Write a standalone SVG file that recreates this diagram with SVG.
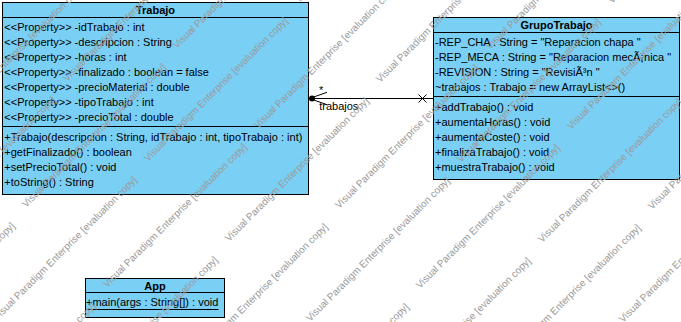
<svg xmlns="http://www.w3.org/2000/svg" xmlns:xlink="http://www.w3.org/1999/xlink" width="681" height="322" viewBox="0 0 681 322">
  <style>
    .box { fill: #7ACFF5; stroke: #000; stroke-width: 1; }
    .sep { stroke: #000; stroke-width: 1; fill: none; }
    .t { font-family: "Liberation Sans", Arial, sans-serif; font-size: 11px; fill: #000; }
    .h { font-weight: bold; text-anchor: middle; }
    .wm { font-family: "Liberation Sans", Arial, sans-serif; font-size: 10px; fill: #9a9a9a; }
  </style>
  <defs>
    <text id="wm" class="wm">Visual Paradigm Enterprise [evaluation copy]</text>
  </defs>
  <rect width="681" height="322" fill="#fff"/>

  <!-- association: GrupoTrabajo.trabajos -> Trabajo -->
  <g id="connectors">
    <line class="sep" x1="308.5" y1="98.5" x2="433.5" y2="98.5"/>
    <circle cx="312" cy="98.5" r="3" fill="#000"/>
    <polyline class="sep" points="327,92.3 309.5,98.5 327,104.7"/>
    <path class="sep" d="M418.5,94.5 L426.5,102.5 M418.5,102.5 L426.5,94.5"/>
    <text class="t" x="318.9" y="93.5">*</text>
    <text class="t" x="319.2" y="109.5">trabajos</text>
  </g>

  <g id="Trabajo">
    <rect class="box" x="2.5" y="2.5" width="306" height="192"/>
    <line class="sep" x1="2.5" y1="17.5" x2="308.5" y2="17.5"/>
    <line class="sep" x1="2.5" y1="126.5" x2="308.5" y2="126.5"/>
    <text class="t h" x="155.5" y="14">Trabajo</text>
    <text class="t" x="4.3" y="31">&lt;&lt;Property&gt;&gt; -idTrabajo : int</text>
    <text class="t" x="4.3" y="46">&lt;&lt;Property&gt;&gt; -descripcion : String</text>
    <text class="t" x="4.3" y="61">&lt;&lt;Property&gt;&gt; -horas : int</text>
    <text class="t" x="4.3" y="76">&lt;&lt;Property&gt;&gt; -finalizado : boolean = false</text>
    <text class="t" x="4.3" y="91">&lt;&lt;Property&gt;&gt; -precioMaterial : double</text>
    <text class="t" x="4.3" y="106">&lt;&lt;Property&gt;&gt; -tipoTrabajo : int</text>
    <text class="t" x="4.3" y="121">&lt;&lt;Property&gt;&gt; -precioTotal : double</text>
    <text class="t" x="4.3" y="140.5">+Trabajo(descripcion : String, idTrabajo : int, tipoTrabajo : int)</text>
    <text class="t" x="4.3" y="155.5">+getFinalizado() : boolean</text>
    <text class="t" x="4.3" y="170.5">+setPrecioTotal() : void</text>
    <text class="t" x="4.3" y="185.5">+toString() : String</text>
  </g>

  <g id="GrupoTrabajo">
    <rect class="box" x="433.5" y="17.5" width="246" height="162"/>
    <line class="sep" x1="433.5" y1="32.5" x2="679.5" y2="32.5"/>
    <line class="sep" x1="433.5" y1="96.5" x2="679.5" y2="96.5"/>
    <text class="t h" x="556.5" y="29">GrupoTrabajo</text>
    <text class="t" x="435" y="46">-REP_CHA : String = "Reparacion chapa "</text>
    <text class="t" x="435" y="61">-REP_MECA : String = "Reparacion mecÃ¡nica "</text>
    <text class="t" x="435" y="76">-REVISION : String = "RevisiÃ³n "</text>
    <text class="t" x="435" y="91">~trabajos : Trabajo = new ArrayList&lt;&gt;()</text>
    <text class="t" x="435" y="110.5">+addTrabajo() : void</text>
    <text class="t" x="435" y="125.5">+aumentaHoras() : void</text>
    <text class="t" x="435" y="140.5">+aumentaCoste() : void</text>
    <text class="t" x="435" y="155.5">+finalizaTrabajo() : void</text>
    <text class="t" x="435" y="170.5">+muestraTrabajo() : void</text>
  </g>

  <g id="App">
    <rect class="box" x="85.5" y="278.5" width="139" height="39"/>
    <line class="sep" x1="85.5" y1="292.5" x2="224.5" y2="292.5"/>
    <text class="t h" x="155" y="290">App</text>
    <text class="t" x="86" y="306">+main(args : String[]) : void</text>
    <line class="sep" x1="86" y1="309.5" x2="218.4" y2="309.5"/>
  </g>

  <!-- evaluation watermark, tiled over the drawing -->
  <g id="watermark">
    <use xlink:href="#wm" transform="translate(299,3) rotate(-45)"/>
    <use xlink:href="#wm" transform="translate(612,4) rotate(-45)"/>
    <use xlink:href="#wm" transform="translate(67,82) rotate(-45)"/>
    <use xlink:href="#wm" transform="translate(380,83) rotate(-45)"/>
    <use xlink:href="#wm" transform="translate(148,162) rotate(-45)"/>
    <use xlink:href="#wm" transform="translate(461,163) rotate(-45)"/>
    <use xlink:href="#wm" transform="translate(-84,241) rotate(-45)"/>
    <use xlink:href="#wm" transform="translate(229,242) rotate(-45)"/>
    <use xlink:href="#wm" transform="translate(542,243) rotate(-45)"/>
    <use xlink:href="#wm" transform="translate(-3,321) rotate(-45)"/>
    <use xlink:href="#wm" transform="translate(310,322) rotate(-45)"/>
    <use xlink:href="#wm" transform="translate(623,323) rotate(-45)"/>
    <use xlink:href="#wm" transform="translate(78,401) rotate(-45)"/>
    <use xlink:href="#wm" transform="translate(391,402) rotate(-45)"/>
    <use xlink:href="#wm" transform="translate(177,49) rotate(-45)"/>
    <use xlink:href="#wm" transform="translate(490,50) rotate(-45)"/>
    <use xlink:href="#wm" transform="translate(-55,128) rotate(-45)"/>
    <use xlink:href="#wm" transform="translate(258,129) rotate(-45)"/>
    <use xlink:href="#wm" transform="translate(571,130) rotate(-45)"/>
    <use xlink:href="#wm" transform="translate(26,208) rotate(-45)"/>
    <use xlink:href="#wm" transform="translate(339,209) rotate(-45)"/>
    <use xlink:href="#wm" transform="translate(652,210) rotate(-45)"/>
    <use xlink:href="#wm" transform="translate(107,288) rotate(-45)"/>
    <use xlink:href="#wm" transform="translate(420,289) rotate(-45)"/>
    <use xlink:href="#wm" transform="translate(-125,367) rotate(-45)"/>
    <use xlink:href="#wm" transform="translate(188,368) rotate(-45)"/>
    <use xlink:href="#wm" transform="translate(501,369) rotate(-45)"/>
    <use xlink:href="#wm" transform="translate(-44,447) rotate(-45)"/>
    <use xlink:href="#wm" transform="translate(269,448) rotate(-45)"/>
    <use xlink:href="#wm" transform="translate(582,449) rotate(-45)"/>
  </g>
</svg>
